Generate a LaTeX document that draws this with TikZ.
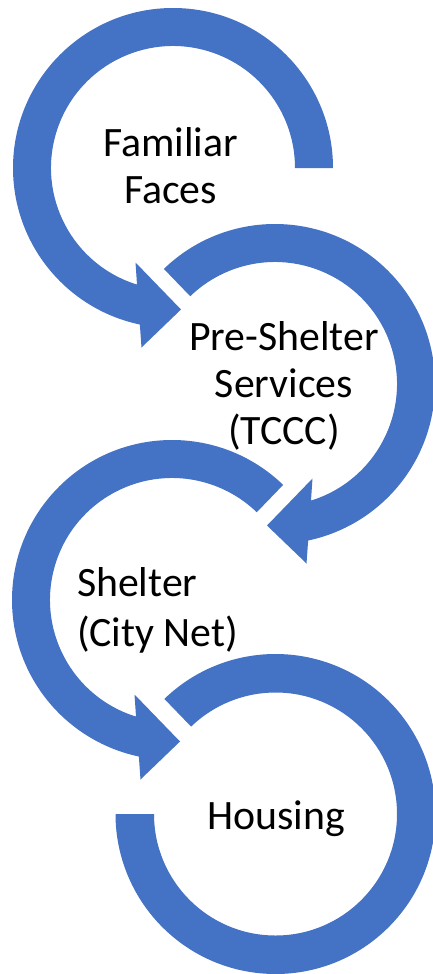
\documentclass[tikz,border=0pt]{standalone}
\usepackage{fontspec}
\setmainfont{Carlito}
\definecolor{arrowblue}{HTML}{4472C4}
\begin{document}
\begin{tikzpicture}[x=1pt,y=1pt,
  ringarrow/.style={fill=arrowblue,draw=none},
  label/.style={font=\fontsize{41.8}{47}\selectfont,text=black,inner sep=0pt,outer sep=0pt}]
\useasboundingbox (0,0) rectangle (432,-974);
\coordinate (c1) at (173,-168);
\coordinate (c2) at (275,-384);
\coordinate (c3) at (172,-600);
\coordinate (c4) at (275.5,-814);
% circle 1: counterclockwise, arrow at bottom pointing right
\begin{scope}[shift={(c1)}]
\fill[ringarrow] (0:160) arc[start angle=0,end angle=258.04,radius=160]
  -- (-31.5,-179.5) -- (8,-141.5) -- (-37.5,-94.5)
  -- (252.85:122) arc[start angle=252.85,end angle=0,radius=122] -- cycle;
\end{scope}
% circle 2: clockwise, arrow at bottom pointing left
\begin{scope}[shift={(c2)}]
\fill[ringarrow] (134:160) arc[start angle=134,end angle=-78.04,radius=160]
  -- (31.5,-179.5) -- (-8,-141.5) -- (37.5,-94.5)
  -- (-72.85:122) arc[start angle=-72.85,end angle=134,radius=122] -- cycle;
\end{scope}
% circle 3: counterclockwise, arrow at bottom pointing right
\begin{scope}[shift={(c3)}]
\fill[ringarrow] (46:160) arc[start angle=46,end angle=258.04,radius=160]
  -- (-31.5,-179.5) -- (8,-141.5) -- (-37.5,-94.5)
  -- (252.85:122) arc[start angle=252.85,end angle=46,radius=122] -- cycle;
\end{scope}
% circle 4: clockwise ring, no arrowhead
\begin{scope}[shift={(c4)}]
\fill[ringarrow] (134:160) arc[start angle=134,end angle=-180,radius=160]
  -- (180:121.5) arc[start angle=-180,end angle=134,radius=121.5] -- cycle;
\end{scope}
% multi-line nodes: base anchor sits on the last line
\node[label,align=center,anchor=base] (ff) at (170.5,-203.3) {Familiar\\Faces};
\node[label,align=center,anchor=base] (pss) at (284,-444) {Pre-Shelter\\Services\\(TCCC)};
\node[label,font=\fontsize{41.8}{50}\selectfont,align=left,anchor=base west] (sh) at (77,-646) {Shelter\\(City Net)};
\node[label,anchor=base] (ho) at (276,-829) {Housing};
\end{tikzpicture}
\end{document}
